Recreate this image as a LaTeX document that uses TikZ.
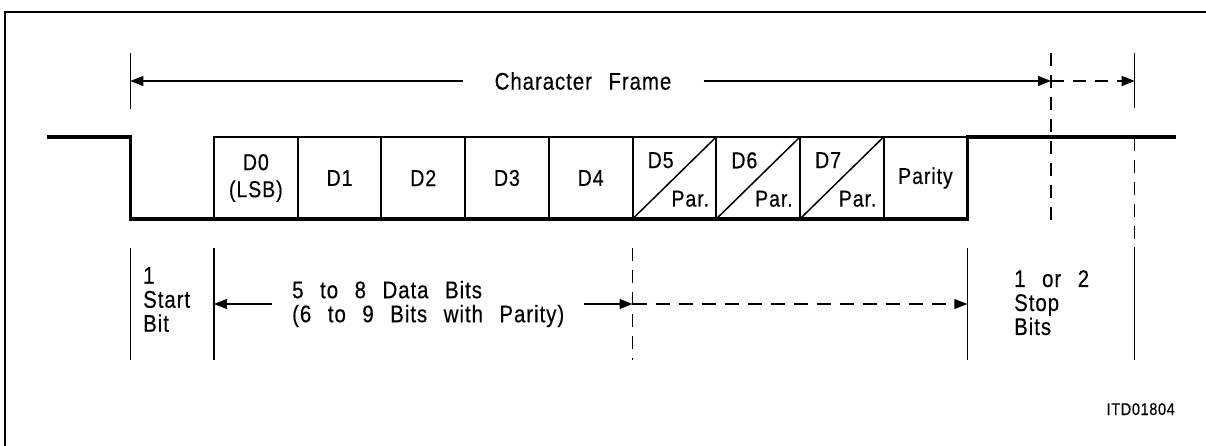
\documentclass[tikz,border=0pt]{standalone}
\usepackage{fontspec}
\setmainfont{Liberation Sans}[FakeStretch=0.85,FakeBold=0.4,LetterSpace=4,WordSpace=2.5]
\usetikzlibrary{arrows.meta,calc}
\begin{document}
\begin{tikzpicture}[x=1pt,y=-1pt,
  thin/.style={line width=1.2pt},
  wave/.style={line width=3.5pt, line join=miter},
  bitbox/.style={draw, line width=2pt, minimum width=83.7pt, minimum height=82pt,
    inner sep=0pt, outer sep=0pt, font=\fontsize{23}{27}\selectfont, align=center},
  arr/.style={thin, -{Triangle[length=13pt,width=10pt]}},
  dsh/.style={thin, dash pattern=on 13pt off 9pt},
  lbl/.style={font=\fontsize{24}{24}\selectfont, align=left, inner sep=0pt},
]
\useasboundingbox (0,0) rectangle (1206,445);
% frame (cropped)
\draw[line width=1.5pt] (5,446) -- (5,12) -- (1207,12);

% bit boxes
\node[bitbox] (b0) at (255.85,178) {D0\\(LSB)};
\node[bitbox] (b1) at (339.55,178) {D1};
\node[bitbox] (b2) at (423.25,178) {D2};
\node[bitbox] (b3) at (506.95,178) {D3};
\node[bitbox] (b4) at (590.65,178) {D4};
\node[bitbox] (b5) at (674.35,178) {};
\node[bitbox] (b6) at (758.05,178) {};
\node[bitbox] (b7) at (841.75,178) {};
\node[bitbox] (b8) at (925.45,178) {Parity};
\foreach \b/\t in {b5/D5,b6/D6,b7/D7}{
  \draw[line width=1.5pt] (\b.south west) -- (\b.north east);
  \node[lbl, font=\fontsize{23}{24}\selectfont, anchor=north west] (\b t) at ($(\b.north west)+(15,15)$) {\t};
  \node[lbl, font=\fontsize{23}{24}\selectfont, anchor=south east] (\b p) at ($(\b.south east)+(-7,-12)$) {Par.};
}

% waveform
\draw[wave] (47,137) -- (130.3,137) -- (130.3,219) -- (967.3,219) -- (967.3,137) -- (1176,137);

% character frame
\node[lbl, inner xsep=32pt] (cf) at (583,81) {Character Frame};
\coordinate (fl) at (130.3,81);
\coordinate (fr) at (1051,81);
\coordinate (fs) at (1134.7,81);
\draw[arr] (cf) -- (fl);
\draw[arr] (cf) -- (fr);
\draw[arr, dash pattern=on 13pt off 9pt] (fr) -- (fs);

% ticks and guide lines
\draw[thin] (130.3,53) -- (130.3,109);
\draw[thin] (1134.7,53) -- (1134.7,108);
\draw[dsh] (1051,53) -- (1051,221);
\draw[dsh] (1134.7,138) -- (1134.7,247);
\draw[thin] (1134.7,247) -- (1134.7,360);
\draw[thin] (130.3,248) -- (130.3,360);
\draw[thin] (214,248) -- (214,360);
\draw[thin] (967.3,248) -- (967.3,360);
\draw[dsh] (632.5,248) -- (632.5,360);

% data bits label and arrows
\node[lbl, anchor=west, inner xsep=20pt] (db) at (272,304) {5 to 8 Data Bits\\(6 to 9 Bits with Parity)};
\coordinate (dl) at (214,304);
\coordinate (dm) at (632.5,304);
\coordinate (de) at (967.3,304);
\draw[arr] (db) -- (dl);
\draw[arr] (db) -- (dm);
\draw[arr, dash pattern=on 14pt off 9pt] (dm) -- (de);

% start / stop labels
\node[lbl, anchor=north west] (sb) at (143,267) {1\\Start\\Bit};
\node[lbl, anchor=north west] (stb) at (1014,270) {1 or 2\\Stop\\Bits};

\node[font=\fontsize{17}{19}\selectfont, anchor=base east, inner sep=0pt] (itd) at (1175,415) {ITD01804};
\end{tikzpicture}
\end{document}
